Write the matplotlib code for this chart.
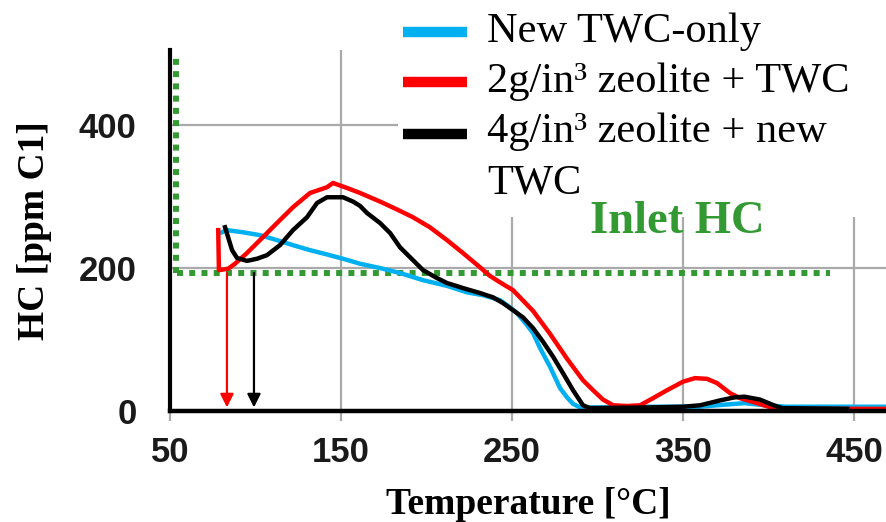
import matplotlib
matplotlib.use("Agg")
import matplotlib.pyplot as plt
from matplotlib.lines import Line2D
from matplotlib.patches import Rectangle

# ---- data -------------------------------------------------------------
series_labels = ["New TWC-only", "2g/in³ zeolite + TWC", "4g/in³ zeolite + new"]
label_wrap = "TWC"
series_colors = ["#00b0f0", "#ff0000", "#000000"]

twc_temp = [80.4, 83.3, 92.7, 102.6, 112.6, 121.9, 131.9, 141.8, 151.2, 161.1,
            172.8, 184.5, 198.0, 212.0, 223.7, 233.0, 243.0, 248.8, 252.9, 258.8,
            262.3, 266.4, 272.2, 278.1, 282.2, 285.7, 289.8, 300.0, 330.0, 360.0,
            375.0, 386.0, 398.0, 410.0, 440.0, 468.7]
twc_hc = [250, 253, 250, 246, 239, 232, 225, 219, 213, 206,
          200, 193, 183, 175, 166, 162, 155, 145, 137, 120,
          109, 88, 62, 32, 19, 10, 5, 5, 6, 6,
          9, 11, 8, 6, 6, 6]

zeo2_temp = [78.2, 78.6, 84.0, 88.0, 95.0, 102.6, 112.6, 121.9, 131.9, 141.8,
             145.3, 153.5, 161.1, 172.8, 182.7, 192.1, 202.0, 212.0, 221.3, 231.3,
             237.1, 243.0, 250.6, 262.3, 272.2, 282.2, 291.5, 297.4, 303.2, 309.1,
             317.3, 324.9, 332.5, 340.6, 350.0, 357.0, 364.0, 369.9, 377.5, 383.3,
             393.3, 402.6, 408.5, 430.0, 468.7]
zeo2_hc = [253, 197, 199, 206, 221, 239, 263, 285, 305, 313,
           319, 312, 305, 293, 282, 271, 257, 239, 221, 201,
           189, 180, 169, 140, 108, 73, 43, 29, 16, 8,
           7, 8, 18, 29, 41, 46, 45, 39, 25, 18,
           11, 4, 3, 3, 3]

zeo4_temp = [82.2, 86.3, 89.2, 95.0, 100.9, 106.7, 114.3, 121.9, 130.1, 136.0,
             141.8, 151.2, 157.0, 161.1, 165.2, 172.8, 178.7, 184.5, 192.1, 198.0,
             206.1, 212.0, 221.3, 231.3, 238.9, 244.7, 250.6, 256.4, 262.3, 268.1,
             274.0, 279.8, 285.7, 291.5, 295.6, 330.0, 350.0, 360.0, 372.0, 380.0,
             386.0, 395.0, 403.0, 408.0, 446.0]
zeo4_hc = [257, 225, 214, 210, 213, 218, 232, 253, 271, 291,
           299, 299, 293, 287, 277, 263, 249, 229, 211, 197,
           186, 179, 172, 165, 159, 151, 141, 131, 116, 97,
           76, 53, 29, 8, 4, 5, 6, 8, 15, 19,
           20, 16, 8, 4, 3]

inlet_hc = 193
inlet_start_temp = 54
inlet_end_temp = 436
inlet_top = 495
onset_temps = [83.3, 99.1]
onset_colors = ["#ff0000", "#000000"]

x_ticks = [50, 150, 250, 350, 450]
y_ticks = [0, 200, 400]

GREEN = "#339933"

# ---- figure -----------------------------------------------------------
W, H = 886, 522
fig = plt.figure(figsize=(W / 100, H / 100), dpi=100)
ax = fig.add_axes([170 / W, 1 - 411 / H, (W - 170) / W, (411 - 50) / H])
ax.set_xlim(50, 468.7)
ax.set_ylim(0, 505)

ax.set_axisbelow(True)
ax.grid(True, color="#aaaaaa", linewidth=1.6)
ax.set_xticks(x_ticks)
ax.set_yticks(y_ticks)
for s in ["top", "right"]:
    ax.spines[s].set_visible(False)
ax.spines["left"].set_linewidth(3.0)
ax.spines["bottom"].set_linewidth(3.2)
ax.spines["left"].set_zorder(4)
ax.spines["bottom"].set_zorder(4)

tick_font = dict(family="Liberation Sans", weight="bold", size=25)
ax.tick_params(axis="x", length=7, width=1.6, color="#aaaaaa", pad=11,
               labelcolor="#1a1a1a")
ax.tick_params(axis="y", length=0, pad=24, labelcolor="#1a1a1a")
for lab in ax.get_xticklabels() + ax.get_yticklabels():
    lab.set_fontproperties(tick_font)
    lab.set_fontweight("bold")

ax.set_xlabel("Temperature [°C]", family="Liberation Serif", weight="bold",
              size=27, labelpad=13)
ax.set_ylabel("HC [ppm C1]", family="Liberation Serif", weight="bold",
              size=27, labelpad=19)

# inlet HC reference (dotted green)
ax.plot([inlet_start_temp, inlet_end_temp], [inlet_hc, inlet_hc], color=GREEN,
        linewidth=4.3, linestyle=(0, (1, 1.05)), dash_capstyle="butt", zorder=2)
ax.plot([inlet_start_temp - 0.3, inlet_start_temp - 0.3], [inlet_hc, inlet_top],
        color=GREEN, linewidth=4.3, linestyle=(0, (1, 1.05)),
        dash_capstyle="butt", zorder=2)

# outlet HC curves
ax.plot(twc_temp, twc_hc, color=series_colors[0], linewidth=3.2, zorder=3)
ax.plot(zeo2_temp, zeo2_hc, color=series_colors[1], linewidth=3.2, zorder=3)
ax.plot(zeo4_temp, zeo4_hc, color=series_colors[2], linewidth=3.2, zorder=3)

# onset arrows
for t, c in zip(onset_temps, onset_colors):
    ax.annotate("", xy=(t, 5), xytext=(t, inlet_hc),
                arrowprops=dict(arrowstyle="-|>", color=c, lw=1.6,
                                mutation_scale=20, shrinkA=0, shrinkB=0),
                zorder=3)

# white panels behind the legend and the "Inlet HC" caption
for x0, y1 in [(398, 200), (470, 217)]:
    fig.add_artist(Rectangle((x0 / W, 1 - y1 / H), (W - x0) / W, y1 / H,
                             transform=fig.transFigure, facecolor="white",
                             edgecolor="none", zorder=5))

legend_font = dict(family="Liberation Serif", size=30.5)
row_y = [32, 82, 134]
baselines = [42, 92, 142]
for yy, by, lab, col in zip(row_y, baselines, series_labels, series_colors):
    fig.add_artist(Line2D([403 / W, 467 / W], [1 - yy / H, 1 - yy / H],
                          transform=fig.transFigure, color=col,
                          linewidth=7.5, solid_capstyle="butt", zorder=6))
    fig.text(487 / W, 1 - by / H, lab, ha="left", va="baseline", zorder=6,
             **legend_font)
fig.text(487 / W, 1 - 193 / H, label_wrap, ha="left", va="baseline", zorder=6,
         **legend_font)

fig.text(677 / W, 1 - 233 / H, "Inlet HC", family="Liberation Serif",
         weight="bold", size=33.5, color=GREEN, ha="center", va="baseline",
         zorder=6)

fig.savefig("out.png", dpi=100)
